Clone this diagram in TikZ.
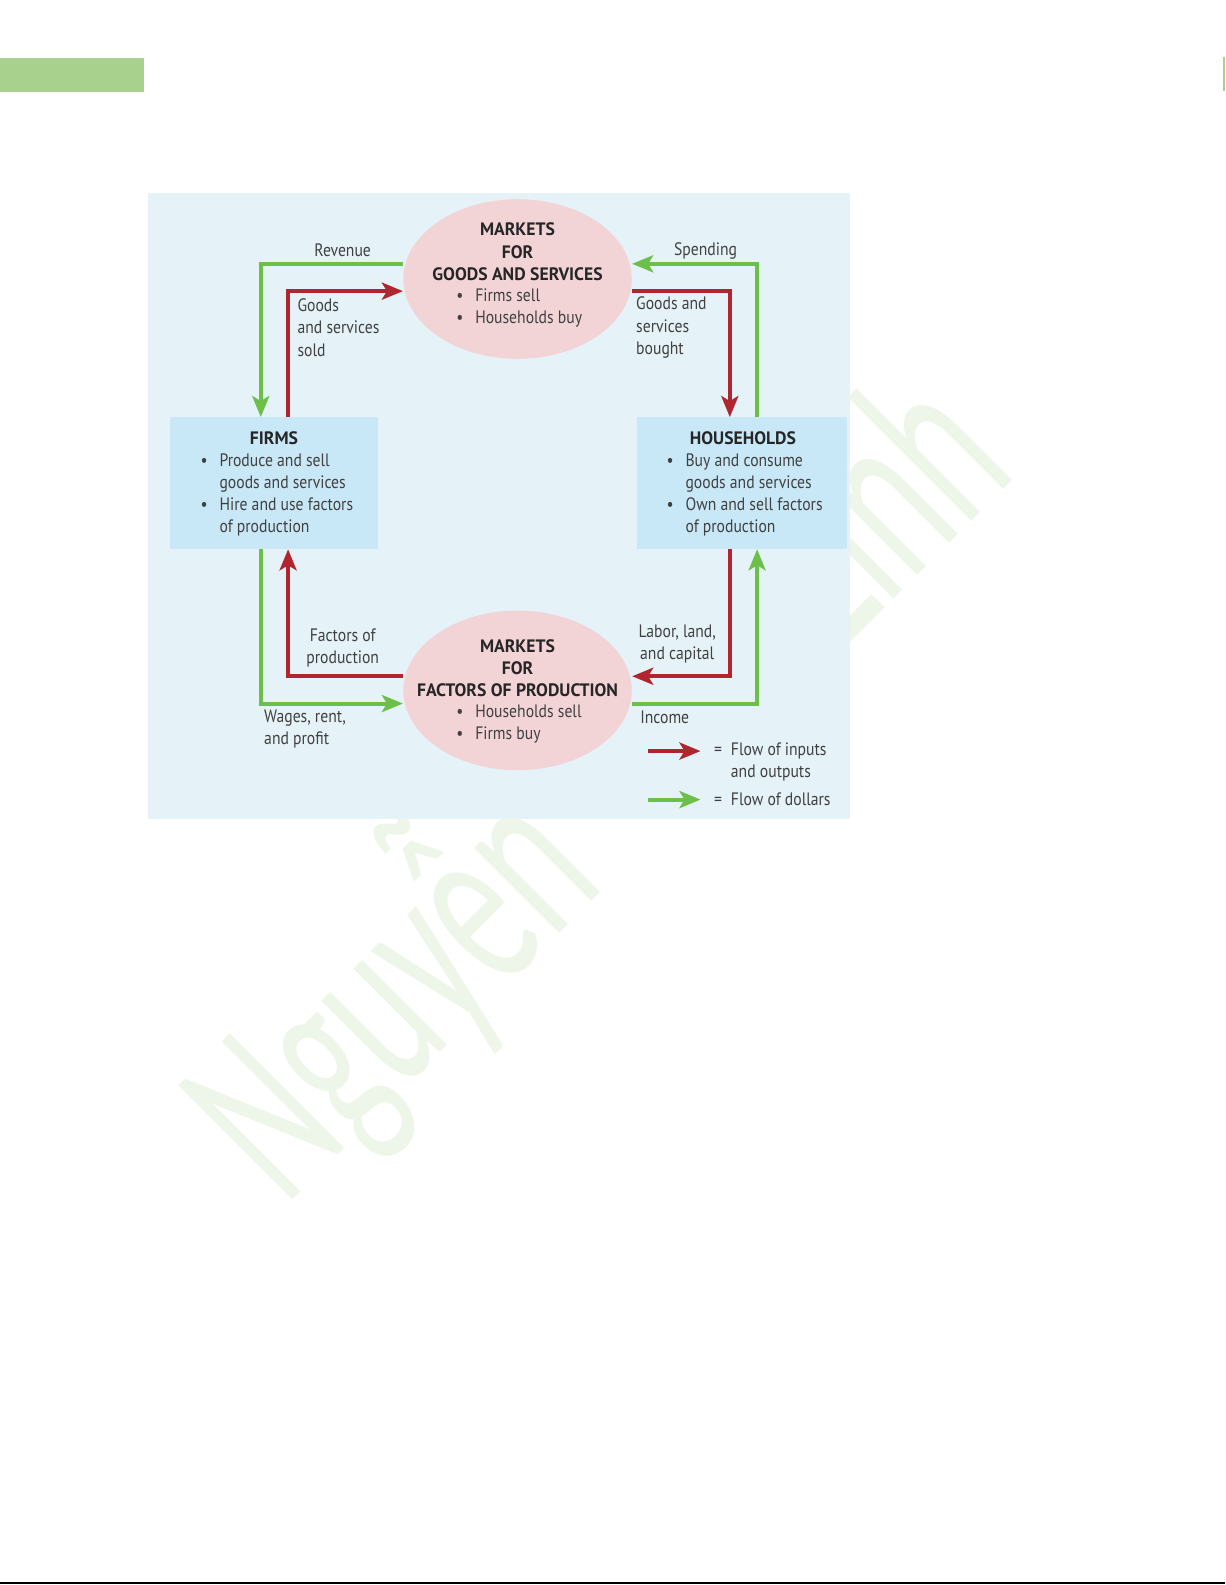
\documentclass[tikz,border=0pt]{standalone}
\usepackage{fontspec}
\setmainfont{PT Sans}[FakeStretch=0.87]
\newfontfamily\headfont{PT Sans}[FakeStretch=0.98]
\newfontfamily\wmfont{Carlito}[FakeStretch=0.58]
\usetikzlibrary{arrows.meta,shapes.geometric}
\definecolor{panelbg}{HTML}{E5F3F8}
\definecolor{boxbg}{HTML}{C9E8F7}
\definecolor{ellbg}{HTML}{F2D4D6}
\definecolor{flowred}{HTML}{B1252F}
\definecolor{flowgreen}{HTML}{6CBF48}
\definecolor{barfill}{HTML}{A9D18E}
\definecolor{wmgreen}{HTML}{EDF6E8}
\definecolor{txtgray}{HTML}{404040}
\newcommand{\bul}{\makebox[9.5pt][l]{\textbullet}}
\newcommand{\bulsp}{\hspace*{9.5pt}}
\newcommand{\eqsp}{=\hspace{4.5pt}}
\begin{document}
\begin{tikzpicture}[x=0.50535pt,y=-0.50535pt,
    font=\fontsize{9}{11.1}\selectfont,
    lbl/.style={text=txtgray,inner sep=0pt,align=left},
    head/.style={font=\headfont\fontsize{9}{11.1}\selectfont\bfseries,text=black!85,inner sep=0pt,align=center},
    market/.style={ellipse,fill=ellbg,minimum width=114.2pt,minimum height=79.8pt,inner sep=0pt},
    sector/.style={rectangle,fill=boxbg,minimum height=65.7pt,inner sep=0pt},
    redflow/.style={draw=flowred,line width=2pt,-{Stealth[length=10.5pt,width=8.5pt,inset=2.5pt]}},
    greenflow/.style={draw=flowgreen,line width=2pt,-{Stealth[length=10.5pt,width=8.5pt,inset=2.5pt]}}]
\useasboundingbox (0,0) rectangle (1212,1568);
% watermark
\node[wmgreen,font=\wmfont\fontsize{126}{126}\selectfont,rotate=45,anchor=base west,inner sep=0pt] (wmA) at (282,1195) {Nguyễn};
\node[wmgreen,font=\wmfont\fontsize{126}{126}\selectfont,rotate=45,anchor=base west,inner sep=0pt] (wmB) at (834,643) {Linh};
% page marks
\fill[barfill] (0,57) rectangle (142,91);
\draw[barfill,line width=1pt] (1211,56) -- (1211,90);
\draw[black,line width=0.8pt] (0,1566) -- (1212,1566);
% panel
\fill[panelbg] (146,191) rectangle (841,810);
\node[market] (goods) at (512,276) {};
\node[market] (factors) at (512,683) {};
\node[sector,minimum width=104.1pt] (firms) at (271,478) {};
\node[sector,minimum width=105.1pt] (households) at (734,478) {};
% corners
\coordinate (rev) at (258,261);
\coordinate (sold) at (285,288);
\coordinate (bought) at (722,288);
\coordinate (spend) at (749,261);
\coordinate (fop) at (285,669);
\coordinate (wage) at (258,696);
\coordinate (labor) at (722,669);
\coordinate (inc) at (749,696);
% flows
\draw[greenflow] (goods.west |- rev) -- (rev) -- (rev |- firms.north);
\draw[redflow] (sold |- firms.north) -- (sold) -- (goods.west |- sold);
\draw[redflow] (goods.east |- bought) -- (bought) -- (bought |- households.north);
\draw[greenflow] (spend |- households.north) -- (spend) -- (goods.east |- spend);
\draw[redflow] (factors.west |- fop) -- (fop) -- (fop |- firms.south);
\draw[greenflow] (wage |- firms.south) -- (wage) -- (factors.west |- wage);
\draw[redflow] (labor |- households.south) -- (labor) -- (factors.east |- labor);
\draw[greenflow] (factors.east |- inc) -- (inc) -- (inc |- households.south);
% texts in markets and sectors
\node[head] (goodshead) at (512,249) {MARKETS\\FOR\\GOODS AND SERVICES};
\node[lbl,anchor=west] (goodslist) at (451,305) {\bul Firms sell\\\bul Households buy};
\node[head] (factorshead) at (512,661) {MARKETS\\FOR\\FACTORS OF PRODUCTION};
\node[lbl,anchor=west] (factorslist) at (451,716) {\bul Households sell\\\bul Firms buy};
\node[head] (firmshead) at (271,433) {FIRMS};
\node[lbl,anchor=west] (firmslist) at (198,489.5) {\bul Produce and sell\\\bulsp goods and services\\\bul Hire and use factors\\\bulsp of production};
\node[head] (hhhead) at (735,433) {HOUSEHOLDS};
\node[lbl,anchor=west] (hhlist) at (659,489.5) {\bul Buy and consume\\\bulsp goods and services\\\bul Own and sell factors\\\bulsp of production};
% flow labels
\node[lbl] (revenue) at (339,248) {Revenue};
\node[lbl] (spending) at (698,248) {Spending};
\node[lbl,anchor=west] (soldlbl) at (294,324) {Goods\\and services\\sold};
\node[lbl,anchor=west] (boughtlbl) at (629,324) {Goods and\\services\\bought};
\node[lbl,align=center] (foplbl) at (339,641) {Factors of\\production};
\node[lbl,align=center] (laborlbl) at (670,637) {Labor, land,\\and capital};
\node[lbl,anchor=west] (wagelbl) at (261,721) {Wages, rent,\\and profit};
\node[lbl,anchor=west] (inclbl) at (633,710) {Income};
% legend
\coordinate (lr1) at (641,743);
\coordinate (lr2) at (693,743);
\coordinate (lg1) at (641,791);
\coordinate (lg2) at (693,791);
\draw[redflow] (lr1) -- (lr2);
\draw[greenflow] (lg1) -- (lg2);
\node[lbl,anchor=west] (legred) at (706,754) {\eqsp Flow of inputs\\\hphantom{\eqsp}and outputs};
\node[lbl,anchor=west] (leggreen) at (706,791) {\eqsp Flow of dollars};
\end{tikzpicture}
\end{document}
